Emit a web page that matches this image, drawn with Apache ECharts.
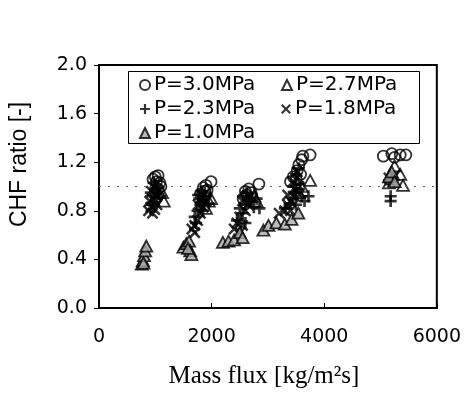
<!DOCTYPE html>
<html>
<head>
<meta charset="utf-8">
<script src="https://cdn.jsdelivr.net/npm/echarts@6/dist/echarts.min.js"></script>
<style>html,body{margin:0;padding:0;background:#fff}#c{width:464px;height:394px}</style>
</head>
<body>
<div id="c"></div>
<script>
// Tick labels
const xTicks = [0, 2000, 4000, 6000];
const yTicks = [0.0, 0.4, 0.8, 1.2, 1.6, 2.0];
const seriesNames = ['P=3.0MPa', 'P=2.7MPa', 'P=2.3MPa', 'P=1.8MPa', 'P=1.0MPa'];

// [mass flux, CHF ratio]
const p30 = [
  [1000,1.08],[1050,1.09],[960,1.06],[1020,1.04],[1080,1.03],[1100,1.00],[1050,0.98],
  [1990,1.04],[1900,1.01],[1850,0.99],[1880,0.96],[1800,0.94],[1920,0.97],
  [2840,1.02],[2660,0.98],[2600,0.96],[2620,0.93],[2700,0.95],[2560,0.90],
  [3400,1.04],[3450,1.08],[3520,1.13],[3550,1.18],[3600,1.22],[3620,1.25],[3750,1.26],[3500,1.06],[3580,1.10],
  [5050,1.25],[5200,1.27],[5250,1.24],[5350,1.26],[5450,1.26]
];
const p27 = [
  [1150,0.88],[1120,0.95],
  [1950,0.88],[1990,0.90],[1900,0.82],
  [2800,0.88],[2760,0.92],
  [3750,1.05],[3600,1.00],[3550,0.95],
  [5250,1.17],[5200,1.06],[5350,1.10],[5400,1.01],[5150,1.03]
];
const p23 = [
  [920,0.95],[960,0.92],[1000,0.97],[1030,0.90],[980,0.87],[1060,0.94],[940,0.85],[1010,1.01],[1090,0.92],[970,1.03],[1040,0.99],
  [1700,0.75],[1750,0.80],[1800,0.85],[1850,0.88],[1900,0.92],[1780,0.90],[1850,0.80],[1950,0.86],[1720,0.70],[1880,0.95],[1820,0.96],[1760,0.93],
  [2450,0.72],[2550,0.78],[2600,0.85],[2650,0.90],[2700,0.88],[2750,0.83],[2850,0.82],[2500,0.82],[2600,0.70],[2800,0.90],[2560,0.92],[2620,0.95],
  [3300,0.82],[3400,0.86],[3450,0.90],[3500,0.95],[3550,0.98],[3600,0.92],[3650,0.88],[3720,0.92],[3500,0.85],[3550,1.02],[3450,1.00],[3500,1.10],[3550,1.15],
  [5180,0.92],[5180,0.88],[5150,1.05]
];
const p18 = [
  [880,0.80],[920,0.83],[950,0.78],[990,0.81],[900,0.88],[960,0.90],[1030,0.85],[1000,0.93],[930,0.96],
  [1650,0.65],[1700,0.68],[1750,0.72],[1800,0.78],[1850,0.83],[1900,0.88],[1760,0.85],[1700,0.62],[1800,0.90],
  [2400,0.65],[2450,0.70],[2500,0.75],[2550,0.68],[2600,0.80],[2650,0.85],[2500,0.62],[2700,0.92],[2550,0.88],
  [3200,0.78],[3300,0.80],[3350,0.85],[3400,0.88],[3450,0.92],[3500,0.97],[3400,0.80],[3550,1.00],[3350,0.93],[3450,1.04],[3520,1.12],
  [5150,1.07],[5250,1.09]
];
const p10 = [
  [760,0.36],[780,0.39],[800,0.43],[820,0.47],[840,0.51],[790,0.37],
  [1500,0.50],[1550,0.53],[1600,0.55],[1620,0.47],[1640,0.44],[1580,0.49],
  [2200,0.54],[2300,0.55],[2400,0.56],[2500,0.62],[2550,0.58],
  [2920,0.64],[3010,0.68],[3150,0.70],[3300,0.69],[3420,0.73],[3540,0.78],
  [5150,1.08],[5200,1.12],[5250,1.04]
];

const plusPath = 'path://M3.9,0H6.1V3.9H10V6.1H6.1V10H3.9V6.1H0V3.9H3.9Z';
const crossPath = 'path://M0,1.5L1.5,0L5,3.5L8.5,0L10,1.5L6.5,5L10,8.5L8.5,10L5,6.5L1.5,10L0,8.5L3.5,5Z';
const labelFont = 'DejaVu Sans';
const chart = echarts.init(document.getElementById('c'));
const open = {color:'rgba(0,0,0,0)', borderColor:'#000', borderWidth:1.8};
chart.setOption({
  animation:false,
  backgroundColor:'#fff',
  grid:{left:97, top:65, width:341, height:243, show:true, borderColor:'#000', borderWidth:2, backgroundColor:'transparent'},
  legend:{
    left:139, top:75, width:290, padding:0, itemGap:4, itemWidth:10, itemHeight:10,
    data:seriesNames,
    textStyle:{fontFamily:labelFont, fontSize:20, color:'#000', width:123, lineHeight:17, padding:[0,0,0,-1]}
  },
  graphic:[{type:'rect', left:126, top:69, shape:{width:291, height:72}, style:{fill:'none', stroke:'#000', lineWidth:1}, z:-1}],
  xAxis:{
    type:'value', min:xTicks[0], max:xTicks[xTicks.length-1], interval:2000,
    name:'Mass flux [kg/m²s]', nameLocation:'middle', nameGap:56,
    nameTextStyle:{fontFamily:'Liberation Serif', fontSize:25, color:'#000', padding:[0,8,0,0]},
    axisLine:{show:true, lineStyle:{color:'#000', width:2}},
    axisTick:{show:true, inside:true, length:5, lineStyle:{color:'#000'}},
    axisLabel:{margin:20, fontFamily:labelFont, fontSize:19, color:'#000', formatter:v=>String(v)},
    splitLine:{show:false}
  },
  yAxis:{
    type:'value', min:yTicks[0], max:yTicks[yTicks.length-1], interval:0.4,
    name:'CHF ratio [-]', nameLocation:'middle', nameGap:68, nameRotate:90,
    nameTextStyle:{fontFamily:'Liberation Sans', fontSize:23, color:'#000', padding:[0,0,0,44]},
    axisLine:{show:true, lineStyle:{color:'#000', width:2}},
    axisTick:{show:true, inside:false, length:5, lineStyle:{color:'#000'}},
    axisLabel:{margin:12, fontFamily:labelFont, fontSize:19, color:'#000', formatter:v=>v.toFixed(1)},
    splitLine:{show:false}
  },
  series:[
    {name:seriesNames[0], type:'scatter', data:p30, symbol:'circle', symbolSize:11, itemStyle:open, z:5,
     markLine:{silent:true, symbol:'none', label:{show:false}, lineStyle:{color:'#666', type:[2,7], width:1}, data:[{yAxis:1.0}]}},
    {name:seriesNames[1], type:'scatter', data:p27, symbol:'triangle', symbolSize:[12,11], itemStyle:open, z:4},
    {name:seriesNames[2], type:'scatter', data:p23, symbol:plusPath, symbolSize:12, itemStyle:{color:'#000'}, z:3},
    {name:seriesNames[3], type:'scatter', data:p18, symbol:crossPath, symbolSize:12, itemStyle:{color:'#000'}, z:3},
    {name:seriesNames[4], type:'scatter', data:p10, symbol:'triangle', symbolSize:[12,11], itemStyle:{color:'#aaa', borderColor:'#000', borderWidth:1.8}, z:6}
  ]
});
</script>
</body>
</html>
